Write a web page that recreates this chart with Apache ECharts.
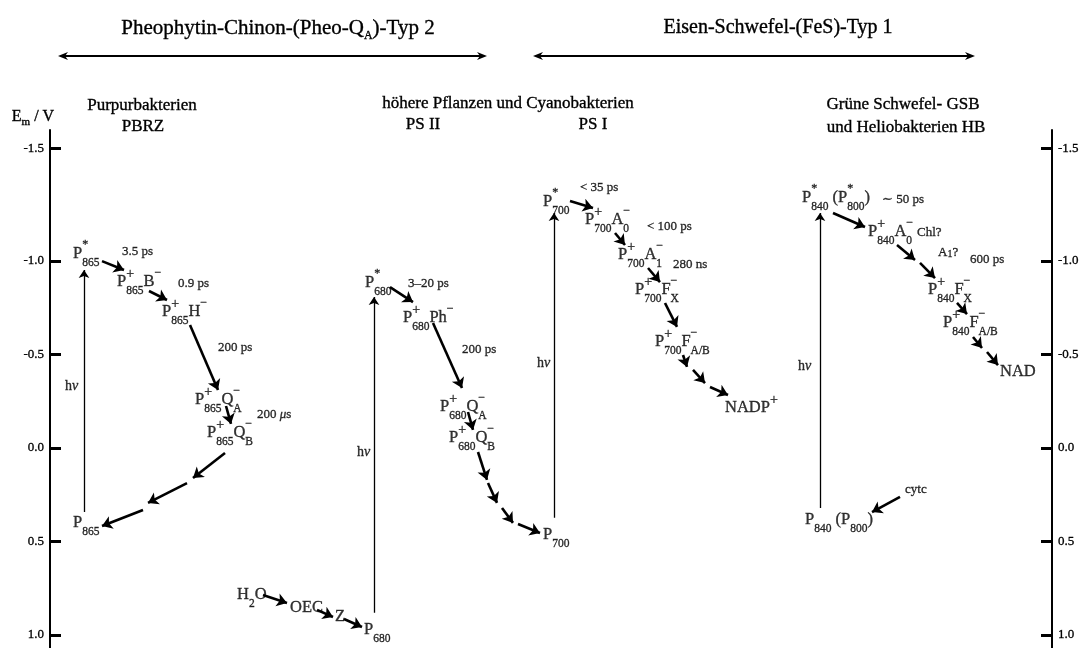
<!DOCTYPE html>
<html><head><meta charset="utf-8">
<script src="https://cdn.jsdelivr.net/npm/echarts@6/dist/echarts.min.js"></script>
<style>html,body{margin:0;padding:0;background:#fff}#c{width:1085px;height:648px}</style>
</head><body><div id="c"></div>
<script>
const F = '"Liberation Serif", "DejaVu Serif", serif';

// Energy axis ticks (reference draws its "-1.5" tick higher than the linear scale would)
const tickPositions = [-1.6, -1.0, -0.5, 0.0, 0.5, 1.0];
const tickLabels = ['-1.5', '-1.0', '-0.5', '0.0', '0.5', '1.0'];

// Species: horizontal position (diagram units), Em (V), label
const speciesX = [23, 67, 112, 145, 157, 23, 315, 353, 390, 399, 493, 187, 240, 285, 314,
  493, 535, 568, 585, 605, 675, 752, 818, 878, 893, 950, 755];
const speciesEm = [-1.037, -0.887, -0.727, -0.256, -0.080, 0.402, -0.882, -0.695, -0.219, -0.053, 0.466,
  0.787, 0.856, 0.904, 0.974, -1.315, -1.219, -1.032, -0.844, -0.566, -0.214, -1.337, -1.155, -0.844,
  -0.668, -0.406, 0.386];
const speciesText = [
  '{m|P}{p|*}{s|865}',
  '{m|P}{q|+}{s|865}{m|B}{u|−}',
  '{m|P}{q|+}{s|865}{m|H}{u|−}',
  '{m|P}{q|+}{s|865}{m|Q}{p|−}{s|A}',
  '{m|P}{q|+}{s|865}{m|Q}{p|−}{s|B}',
  '{m|P}{s|865}',
  '{m|P}{p|*}{s|680}',
  '{m|P}{q|+}{s|680}{m|Ph}{u|−}',
  '{m|P}{q|+}{s|680}{m|Q}{p|−}{s|A}',
  '{m|P}{q|+}{s|680}{m|Q}{p|−}{s|B}',
  '{m|P}{s|700}',
  '{m|H}{s|2}{m|O}',
  '{m|OEC}',
  '{m|Z}',
  '{m|P}{s|680}',
  '{m|P}{p|*}{s|700}',
  '{m|P}{q|+}{s|700}{m|A}{p|−}{s|0}',
  '{m|P}{q|+}{s|700}{m|A}{p|−}{s|1}',
  '{m|P}{q|+}{s|700}{m|F}{p|−}{s|X}',
  '{m|P}{q|+}{s|700}{m|F}{p|−}{s|A/B}',
  '{m|NADP}{v|+}',
  '{m|P}{p|*}{s|840}{m| (P}{p|*}{s|800}{m|)}',
  '{m|P}{q|+}{s|840}{m|A}{p|−}{s|0}',
  '{m|P}{q|+}{s|840}{m|F}{p|−}{s|X}',
  '{m|P}{q|+}{s|840}{m|F}{p|−}{s|A/B}',
  '{m|NAD}',
  '{m|P}{s|840}{m| (P}{s|800}{m|)}'
];

// Annotations (rate constants, hν)
const noteX = [72, 128, 168, 207, 358, 412, 530, 597, 623, 832, 867, 888, 920, 855, 15, 307, 487, 748];
const noteEm = [-1.048, -0.877, -0.534, -0.176, -0.877, -0.524, -1.390, -1.181, -0.978, -1.326, -1.150,
  -1.042, -1.005, 0.225, -0.331, 0.022, -0.454, -0.438];
const noteText = ['3.5 ps', '0.9 ps', '200 ps', '200 {i|μ}s', '3–20 ps', '200 ps', '< 35 ps', '< 100 ps',
  '280 ns', '∼ 50 ps', 'Chl?', 'A{ts|1}?', '600 ps', 'cytc', '{h|h}{hi|ν}', '{h|h}{hi|ν}', '{h|h}{hi|ν}', '{h|h}{hi|ν}'];

// Electron transfer arrows: [x1, Em1, x2, Em2]
const transferArrows = [
  [52, -0.999, 74, -0.951], [99, -0.839, 117, -0.791], [140, -0.657, 168, -0.310], [176, -0.224, 181, -0.128],
  [175, 0.027, 143, 0.161], [137, 0.188, 98, 0.294], [93, 0.332, 52, 0.418],
  [340, -0.860, 363, -0.780], [383, -0.668, 412, -0.320], [418, -0.192, 423, -0.096],
  [428, 0.022, 437, 0.171], [438, 0.188, 447, 0.294], [452, 0.321, 463, 0.401], [468, 0.407, 490, 0.455],
  [213, 0.787, 237, 0.829], [267, 0.866, 283, 0.904], [294, 0.915, 312, 0.958],
  [520, -1.320, 543, -1.283], [565, -1.149, 575, -1.085], [598, -0.962, 610, -0.887], [615, -0.775, 627, -0.647],
  [633, -0.497, 637, -0.433], [643, -0.417, 655, -0.347], [660, -0.326, 678, -0.283],
  [783, -1.256, 815, -1.181], [847, -1.085, 865, -1.005], [870, -0.989, 885, -0.908], [907, -0.775, 917, -0.716],
  [923, -0.593, 932, -0.534], [937, -0.513, 948, -0.443], [850, 0.262, 822, 0.343]
];
// Light excitation arrows (hν): [x, Em bottom, Em top]
const lightArrows = [[34, 0.343, -0.951], [324, 0.882, -0.807], [504, 0.374, -1.256], [770, 0.321, -1.256]];

const SW = 0.35;
function tok(o) { return Object.assign({fontFamily: F, color: '#000', textBorderColor: '#000', textBorderWidth: SW}, o); }
function ztok(o) { return Object.assign({fontFamily: F, fill: '#000', stroke: '#000', lineWidth: SW}, o); }
const rich = {
  m: tok({fontSize: 16.5, lineHeight: 30}),
  s: tok({fontSize: 11.5, lineHeight: 14, verticalAlign: 'bottom'}),
  p: tok({fontSize: 12, lineHeight: 10, verticalAlign: 'top', width: 0}),
  q: tok({fontSize: 14, lineHeight: 12, verticalAlign: 'top', width: 0}),
  u: tok({fontSize: 12, lineHeight: 10, verticalAlign: 'top'}),
  v: tok({fontSize: 14, lineHeight: 12, verticalAlign: 'top'})
};
const noteRich = {
  i: tok({fontSize: 13, fontStyle: 'italic'}),
  ts: tok({fontSize: 10, lineHeight: 10, verticalAlign: 'bottom'}),
  h: tok({fontSize: 14}),
  hi: tok({fontSize: 14, fontStyle: 'italic'})
};

function axisCfg(pos) {
  return {
    type: 'value', inverse: true, min: -1.7, max: 1.07, position: pos,
    axisLine: {show: true, onZero: false, lineStyle: {color: '#000', width: 2}},
    axisTick: {show: true, inside: true, length: 11, customValues: tickPositions, lineStyle: {color: '#000', width: 3}},
    axisLabel: {show: true, customValues: tickPositions, margin: 6, fontFamily: F, fontSize: 13, color: '#000',
      textBorderColor: '#000', textBorderWidth: 0.3,
      formatter: function (v) {
        let best = 0;
        tickPositions.forEach((t, i) => { if (Math.abs(t - v) < Math.abs(tickPositions[best] - v)) best = i; });
        return tickLabels[best];
      }},
    splitLine: {show: false}
  };
}

function dblArrow(x1, x2, y) {
  return [
    {type: 'line', shape: {x1: x1 + 5, y1: y, x2: x2 - 5, y2: y}, style: {stroke: '#000', lineWidth: 2}},
    {type: 'polygon', shape: {points: [[x1, y], [x1 + 10, y - 4], [x1 + 7, y], [x1 + 10, y + 4]]}, style: {fill: '#000'}},
    {type: 'polygon', shape: {points: [[x2, y], [x2 - 10, y - 4], [x2 - 7, y], [x2 - 10, y + 4]]}, style: {fill: '#000'}}
  ];
}
function htext(x, y, text, size, r) {
  const st = {text: text, fill: '#000', fontFamily: F, fontSize: size,
    align: 'center', verticalAlign: 'middle'};
  if (r) { st.rich = r; } else { st.stroke = '#000'; st.lineWidth = SW; }
  return {type: 'text', x: x, y: y, style: st};
}
const headRich = {
  sa: ztok({fontSize: 12, lineHeight: 14, verticalAlign: 'bottom'}),
  t: ztok({fontSize: 21, lineHeight: 28}),
  e: ztok({fontSize: 16, lineHeight: 22}),
  em: ztok({fontSize: 11, lineHeight: 12, verticalAlign: 'bottom'})
};

const chart = echarts.init(document.getElementById('c'), null, {renderer: 'canvas'});
chart.setOption({
  backgroundColor: '#fff',
  animation: false,
  grid: {left: 50, top: 130, width: 1002, height: 518},
  xAxis: {type: 'value', min: 0, max: 1002, show: false},
  yAxis: [axisCfg('left'), axisCfg('right')],
  graphic: [].concat(
    dblArrow(58, 487, 56), dblArrow(533, 975, 56),
    [
      htext(278, 28, '{t|Pheophytin-Chinon-(Pheo-Q}{sa|A}{t|)-Typ 2}', 21, headRich),
      htext(778, 28, 'Eisen-Schwefel-(FeS)-Typ 1', 20),
      htext(142, 106, 'Purpurbakterien', 17),
      htext(143, 127, 'PBRZ', 17),
      htext(508, 104, 'höhere Pflanzen und Cyanobakterien', 17),
      htext(423, 125, 'PS II', 17),
      htext(593, 125, 'PS I', 17),
      htext(903, 105, 'Grüne Schwefel- GSB', 17),
      htext(906, 128, 'und Heliobakterien HB', 17),
      htext(33, 117, '{e|E}{em|m}{e| / V}', 16, headRich)
    ]
  ),
  series: [
    {
      type: 'lines', coordinateSystem: 'cartesian2d', silent: true,
      symbol: ['none', 'arrow'], symbolSize: [0, 8],
      lineStyle: {color: '#000', width: 1.3, opacity: 1},
      data: lightArrows.map(a => ({coords: [[a[0], a[1]], [a[0], a[2]]]}))
    },
    {
      type: 'lines', coordinateSystem: 'cartesian2d', silent: true,
      symbol: ['none', 'arrow'], symbolSize: [0, 10],
      lineStyle: {color: '#000', width: 2.6, opacity: 1},
      data: transferArrows.map(a => ({coords: [[a[0], a[1]], [a[2], a[3]]]}))
    },
    {
      type: 'scatter', symbolSize: 0, silent: true, clip: false,
      data: speciesX.map((x, i) => [x, speciesEm[i]]),
      label: {show: true, position: 'right', distance: 0, formatter: p => speciesText[p.dataIndex], rich: rich}
    },
    {
      type: 'scatter', symbolSize: 0, silent: true, clip: false,
      data: noteX.map((x, i) => [x, noteEm[i]]),
      label: {show: true, position: 'right', distance: 0, fontFamily: F, fontSize: 13, color: '#000',
        textBorderColor: '#000', textBorderWidth: SW,
        formatter: p => noteText[p.dataIndex], rich: noteRich}
    }
  ]
});
</script></body></html>
